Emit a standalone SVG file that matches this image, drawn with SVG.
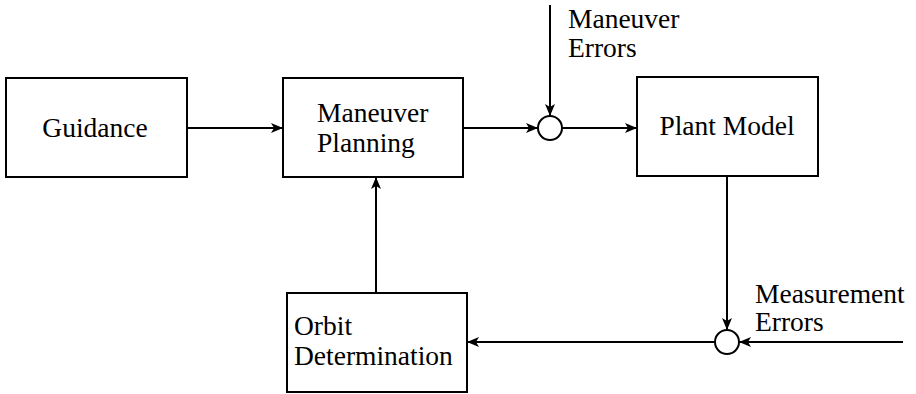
<svg xmlns="http://www.w3.org/2000/svg" width="916" height="394" viewBox="0 0 916 394">
<style>
.box{fill:#fff;stroke:#000;stroke-width:2}
.t{font-family:"Liberation Serif","Times New Roman",serif;font-size:27.5px;fill:#000}
.c{fill:none;stroke:#000;stroke-width:2}
.sum{fill:#fff;stroke:#000;stroke-width:2}
</style>
<defs>
<marker id="ah" viewBox="0 0 12 10" refX="12" refY="5" markerWidth="12" markerHeight="10" markerUnits="userSpaceOnUse" orient="auto">
<path d="M0,0 L12,5 L0,10 L3,5 Z" fill="#000"/>
</marker>
</defs>
<g id="connectors">
<line class="c" x1="187" y1="128" x2="283" y2="128" marker-end="url(#ah)"/>
<line class="c" x1="463" y1="128" x2="538" y2="128" marker-end="url(#ah)"/>
<line class="c" x1="550" y1="5" x2="550" y2="116" marker-end="url(#ah)"/>
<line class="c" x1="562" y1="128" x2="637" y2="128" marker-end="url(#ah)"/>
<line class="c" x1="727" y1="176" x2="727" y2="330" marker-end="url(#ah)"/>
<line class="c" x1="903" y1="342" x2="739" y2="342" marker-end="url(#ah)"/>
<line class="c" x1="715" y1="342" x2="467" y2="342" marker-end="url(#ah)"/>
<line class="c" x1="376" y1="293" x2="376" y2="177" marker-end="url(#ah)"/>
</g>
<g id="guidance">
<rect class="box" x="6" y="78" width="181" height="99"/>
<text class="t" x="95" y="136.5" text-anchor="middle">Guidance</text>
</g>
<g id="maneuver-planning">
<rect class="box" x="283" y="78" width="180" height="99"/>
<text class="t" x="317" y="121.5">Maneuver</text>
<text class="t" x="317" y="151.5">Planning</text>
</g>
<g id="sum1">
<circle class="sum" cx="550" cy="128" r="12"/>
</g>
<g id="maneuver-errors">
<text class="t" x="568" y="28">Maneuver</text>
<text class="t" x="568" y="57">Errors</text>
</g>
<g id="plant-model">
<rect class="box" x="637" y="77" width="181" height="99"/>
<text class="t" x="727" y="135" text-anchor="middle">Plant Model</text>
</g>
<g id="sum2">
<circle class="sum" cx="727" cy="342" r="12"/>
</g>
<g id="measurement-errors">
<text class="t" x="755" y="303">Measurement</text>
<text class="t" x="755" y="331">Errors</text>
</g>
<g id="orbit-determination">
<rect class="box" x="287" y="293" width="180" height="99"/>
<text class="t" x="294" y="335">Orbit</text>
<text class="t" x="294" y="365">Determination</text>
</g>
</svg>
